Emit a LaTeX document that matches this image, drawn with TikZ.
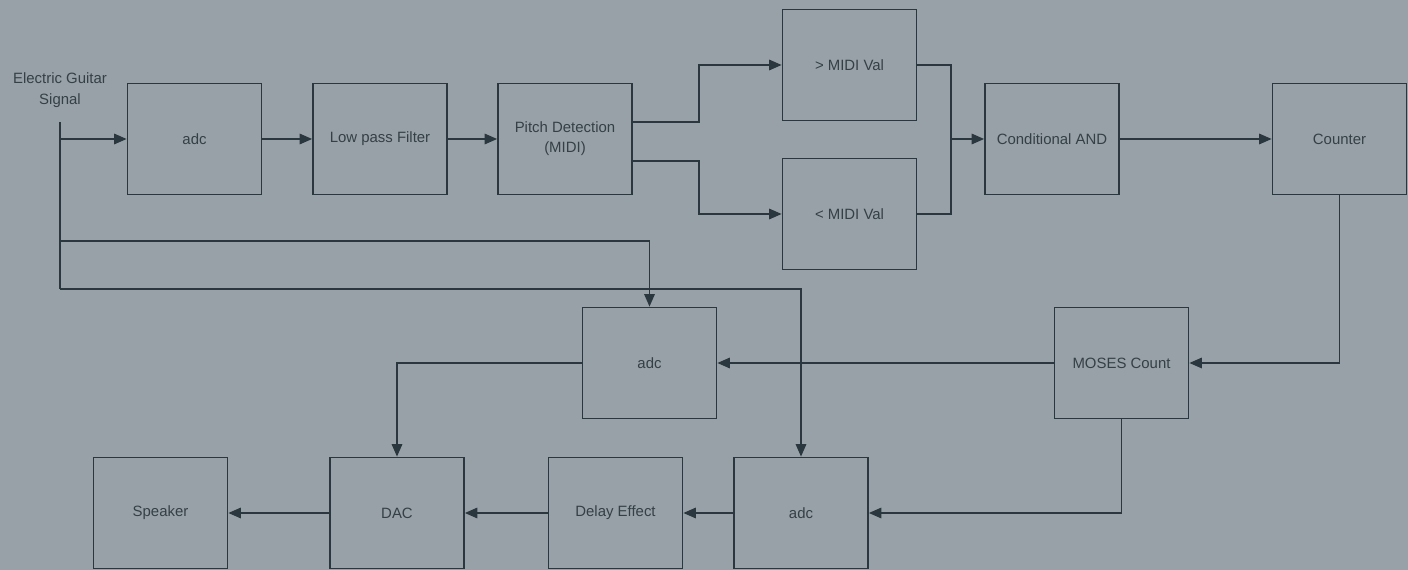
\documentclass[tikz,border=0pt]{standalone}
\usepackage{fontspec}
\setmainfont{Liberation Sans}
\usetikzlibrary{arrows.meta,calc}
\definecolor{bgslate}{HTML}{97A1A7}
\definecolor{inkdark}{HTML}{2B373E}
\definecolor{txtdark}{HTML}{353F46}

\begin{document}
\begin{tikzpicture}[x=0.02cm, y=-0.02cm,
  block/.style={rectangle, draw=inkdark, line width=1pt, minimum width=2.68cm,
    minimum height=2.22cm, inner sep=0pt, align=center, text=txtdark,
    font=\fontsize{8.5}{11.5}\selectfont},
  lbl/.style={align=center, text=txtdark, font=\fontsize{8.5}{11.8}\selectfont},
  arr/.style={draw=inkdark, line width=0.9pt, -{Triangle[length=2.5mm, width=2.1mm]}},
  wire/.style={draw=inkdark, line width=0.9pt}]
% ---------------- canvas ----------------
\fill[bgslate] (0,0) rectangle (1408,570);
\useasboundingbox (0,0) rectangle (1408,570);
% ---------------- top row: detection chain ----------------
\node[lbl] (guitar) at (60,90) {Electric Guitar\\Signal};
\coordinate (src) at (60,122);
\coordinate (srcend) at (60,289);
\node[block] (adcA) at (194.5,139) {adc};
\node[block] (lpf) at (380,139) {Low pass Filter};
\node[block] (pitch) at (565,139) {Pitch Detection\\(MIDI)};
\node[block] (gt) at (849.5,65) {> MIDI Val};
\node[block] (lt) at (849.5,214) {< MIDI Val};
\node[block] (cand) at (1052,139) {Conditional AND};
\node[block] (counter) at (1339.5,139) {Counter};
\coordinate (join) at (951,139);
% ---------------- lower rows: playback chain ----------------
\node[block] (moses) at (1121.5,363) {MOSES Count};
\node[block] (adcB) at (649.5,363) {adc};
\node[block] (adcC) at (801,513) {adc};
\node[block] (delay) at (615.5,513) {Delay Effect};
\node[block] (dac) at (397,513) {DAC};
\node[block] (speaker) at (160.5,513) {Speaker};
% ---------------- connectors ----------------
\draw[wire] (src) -- (srcend);
\draw[arr] (src |- adcA) -- (adcA.west);
\draw[arr] (src |- 0,241) -| (adcB.north);
\draw[arr] (srcend) -| (adcC.north);
\draw[arr] (adcA.east) -- (lpf.west);
\draw[arr] (lpf.east) -- (pitch.west);
\draw[arr] ($(pitch.east)+(0,-17)$) -- ++(66,0) |- (gt.west);
\draw[arr] ($(pitch.east)+(0,22)$) -- ++(66,0) |- (lt.west);
\draw[wire] (gt.east) -| (join) |- (lt.east);
\draw[arr] (join) -- (cand.west);
\draw[arr] (cand.east) -- (counter.west);
\draw[arr] (counter.south) |- (moses.east);
\draw[arr] (moses.west) -- (adcB.east);
\draw[arr] (adcB.west) -| (dac.north);
\draw[arr] (moses.south) |- (adcC.east);
\draw[arr] (adcC.west) -- (delay.east);
\draw[arr] (delay.west) -- (dac.east);
\draw[arr] (dac.west) -- (speaker.east);
\end{tikzpicture}
\end{document}
